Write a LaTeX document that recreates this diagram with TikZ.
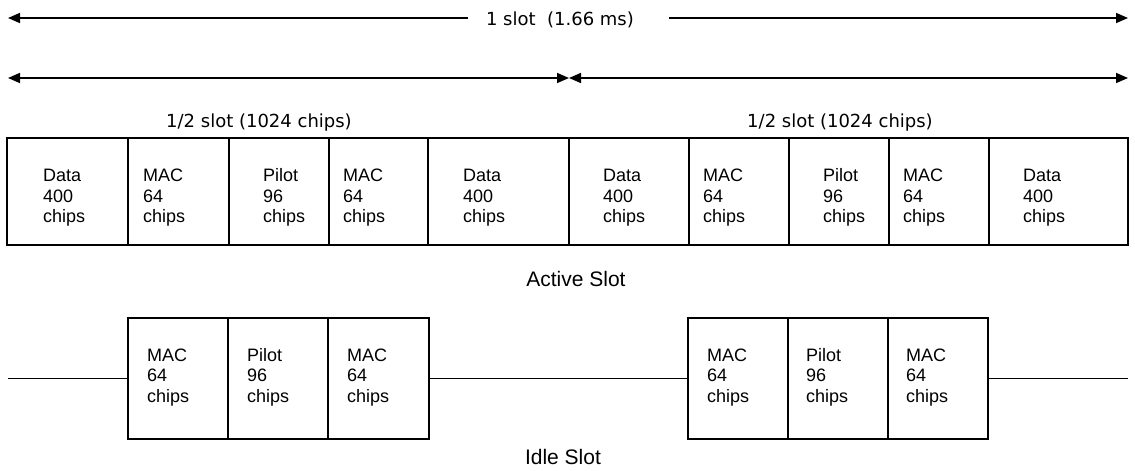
\documentclass[tikz,border=0pt]{standalone}
\usepackage{fontspec}
\setmainfont{Liberation Sans}
\newfontfamily\vfont{DejaVu Sans}
\usetikzlibrary{arrows.meta}

\begin{document}
\begin{tikzpicture}[x=1pt,y=-1pt,
  rule/.style={line width=1.6pt},
  span/.style={rule, {Triangle[length=12pt,width=10pt]}-{Triangle[length=12pt,width=10pt]}},
  spanl/.style={rule, {Triangle[length=12pt,width=10pt]}-},
  spanr/.style={rule, -{Triangle[length=12pt,width=10pt]}},
  dim/.style={font=\vfont\fontsize{18}{20}\selectfont, inner sep=0pt, anchor=base},
  cell/.style={draw, line width=1.6pt, inner sep=0pt, minimum height=#1},
  cell/.default=107pt,
  % multi-line cell text: the base anchor sits on the last line
  ctext/.style={font=\fontsize{18}{20.3}\selectfont, align=left, inner sep=0pt, anchor=base west},
  title/.style={font=\fontsize{21}{24}\selectfont, inner sep=0pt, anchor=base}]
\useasboundingbox (0,0) rectangle (1135,471);

% ---- full slot dimension ----
\coordinate (slotL) at (8,18);
\coordinate (slotR) at (1128,18);
\node[dim] (slot) at (560,25) {1 slot\ \ (1.66 ms)};
\draw[spanl, shorten >=18pt] (slotL) -- (slotL -| slot.west);
\draw[spanr, shorten <=35pt] (slotR -| slot.east) -- (slotR);

% ---- half slot dimensions ----
\coordinate (hL) at (8,78);
\coordinate (hM) at (569,78);
\coordinate (hR) at (1128,78);
\draw[span] (hL) -- (hM);
\draw[span] (hM) -- (hR);
\node[dim] (half1) at (259,127) {1/2 slot (1024 chips)};
\node[dim] (half2) at (840,127) {1/2 slot (1024 chips)};

% ---- active slot ----
\node[cell, minimum width=121pt] (a1) at (67.5,191.5) {};
\node[cell, minimum width=101pt] (a2) at (178.5,191.5) {};
\node[cell, minimum width=100pt] (a3) at (279,191.5) {};
\node[cell, minimum width=99pt]  (a4) at (378.5,191.5) {};
\node[cell, minimum width=141pt] (a5) at (498.5,191.5) {};
\node[cell, minimum width=120pt] (a6) at (629,191.5) {};
\node[cell, minimum width=100pt] (a7) at (739,191.5) {};
\node[cell, minimum width=100pt] (a8) at (839,191.5) {};
\node[cell, minimum width=100pt] (a9) at (939,191.5) {};
\node[cell, minimum width=139pt] (a10) at (1058.5,191.5) {};

\node[ctext] (ta1) at (43,222.5) {Data\\400\\chips};
\node[ctext] (ta2) at (143,222.5) {MAC\\64\\chips};
\node[ctext] (ta3) at (263,222.5) {Pilot\\96\\chips};
\node[ctext] (ta4) at (343,222.5) {MAC\\64\\chips};
\node[ctext] (ta5) at (463,222.5) {Data\\400\\chips};
\node[ctext] (ta6) at (603,222.5) {Data\\400\\chips};
\node[ctext] (ta7) at (703,222.5) {MAC\\64\\chips};
\node[ctext] (ta8) at (823,222.5) {Pilot\\96\\chips};
\node[ctext] (ta9) at (903,222.5) {MAC\\64\\chips};
\node[ctext] (ta10) at (1023,222.5) {Data\\400\\chips};

\node[title] (active) at (576,286) {Active Slot};

% ---- idle slot ----
\node[cell=121pt, minimum width=100pt] (i1) at (178,378.5) {};
\node[cell=121pt, minimum width=100pt] (i2) at (278,378.5) {};
\node[cell=121pt, minimum width=101pt] (i3) at (378.5,378.5) {};
\node[cell=121pt, minimum width=100pt] (i4) at (738,378.5) {};
\node[cell=121pt, minimum width=100pt] (i5) at (838,378.5) {};
\node[cell=121pt, minimum width=100pt] (i6) at (938,378.5) {};

\node[ctext] (ti1) at (147,402) {MAC\\64\\chips};
\node[ctext] (ti2) at (247,402) {Pilot\\96\\chips};
\node[ctext] (ti3) at (347,402) {MAC\\64\\chips};
\node[ctext] (ti4) at (707,402) {MAC\\64\\chips};
\node[ctext] (ti5) at (806,402) {Pilot\\96\\chips};
\node[ctext] (ti6) at (906,402) {MAC\\64\\chips};

\coordinate (iL) at (8,378.5);
\coordinate (iR) at (1128,378.5);
\draw[rule] (iL) -- (i1.west);
\draw[rule] (i3.east) -- (i4.west);
\draw[rule] (i6.east) -- (iR);

\node[title] (idle) at (563,464) {Idle Slot};
\end{tikzpicture}
\end{document}
